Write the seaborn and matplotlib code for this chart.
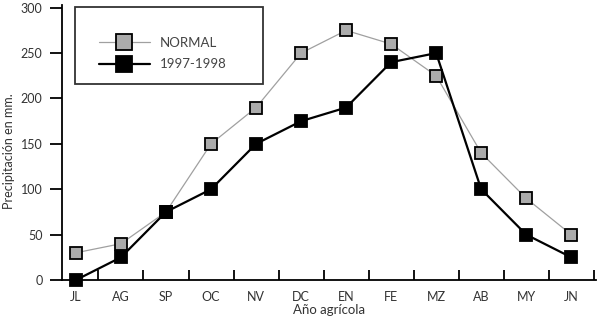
import matplotlib
matplotlib.use("Agg")
import matplotlib.pyplot as plt
from matplotlib.lines import Line2D
from matplotlib.legend_handler import HandlerLine2D
import seaborn as sns
import pandas as pd

months = ["JL", "AG", "SP", "OC", "NV", "DC", "EN", "FE", "MZ", "AB", "MY", "JN"]
normal = [30, 40, 75, 150, 190, 250, 275, 260, 225, 140, 90, 50]
season_9798 = [0, 25, 75, 100, 150, 175, 190, 240, 250, 100, 50, 25]
y_ticks = [0, 50, 100, 150, 200, 250, 300]

sns.set_theme(style="white")
plt.rcParams["font.family"] = ["Lato", "DejaVu Sans"]

df = pd.DataFrame({
    "pos": list(range(len(months))) * 2,
    "mm": normal + season_9798,
    "serie": ["NORMAL"] * len(months) + ["1997-1998"] * len(months),
})

fig = plt.figure(figsize=(5.99, 3.22), dpi=100)
ax = fig.add_axes([62 / 599, 42 / 322, 534 / 599, 275 / 322])

styles = {
    "NORMAL": dict(color="#a0a0a0", lw=0.9, mfc="#ababab"),
    "1997-1998": dict(color="black", lw=1.6, mfc="black"),
}
for name in ["NORMAL", "1997-1998"]:
    st = styles[name]
    sub = df[df["serie"] == name]
    sns.lineplot(data=sub, x="pos", y="mm", ax=ax, color=st["color"], lw=st["lw"],
                 marker="s", markersize=9.3, markerfacecolor=st["mfc"],
                 markeredgecolor="black", markeredgewidth=1.3, label=name,
                 clip_on=False, zorder=3)

ax.set_xlim(-0.31, 11.55)
ax.set_ylim(0, 303)
ax.set_yticks(y_ticks)
ax.set_yticklabels([str(v) for v in y_ticks])
ax.set_xticks(range(len(months)))
ax.set_xticklabels(months)
ax.set_xticks([i + 0.5 for i in range(len(months))], minor=True)
ax.tick_params(axis="x", which="major", length=0, pad=8, labelsize=9, colors="#333333")
ax.tick_params(axis="x", which="minor", direction="in", length=7, width=1.3, color="black", bottom=True)
ax.tick_params(axis="y", direction="out", length=9, width=1.3, color="black", left=True,
               labelsize=9, pad=5, labelcolor="#333333")

for side in ["top", "right"]:
    ax.spines[side].set_visible(False)
for side in ["left", "bottom"]:
    ax.spines[side].set_color("black")
    ax.spines[side].set_linewidth(1.3)

ax.set_xlabel("Año agrícola", fontsize=9.5, color="#333333", labelpad=1)
ax.set_ylabel("Precipitación en mm.", fontsize=9, color="#333333")
ax.yaxis.set_label_coords(-0.088, 0.47)

# a blank title adds room above the entries; xpad indents the handles
leg = ax.legend(loc="upper left", bbox_to_anchor=(0.024, 0.993, 0.352, 0.0), mode="expand",
                frameon=True, fancybox=False, edgecolor="black", fontsize=9.5,
                title=" ", title_fontsize=5.5,
                handler_map={Line2D: HandlerLine2D(xpad=0.75)},
                handlelength=4.65, handletextpad=0.75, borderpad=1.05, labelspacing=0.7,
                borderaxespad=0)
leg.get_frame().set_linewidth(1.3)
for h in leg.legend_handles:
    h.set_markersize(12)
for t in leg.get_texts():
    t.set_color("#444444")

fig.savefig("out.png", dpi=100)
